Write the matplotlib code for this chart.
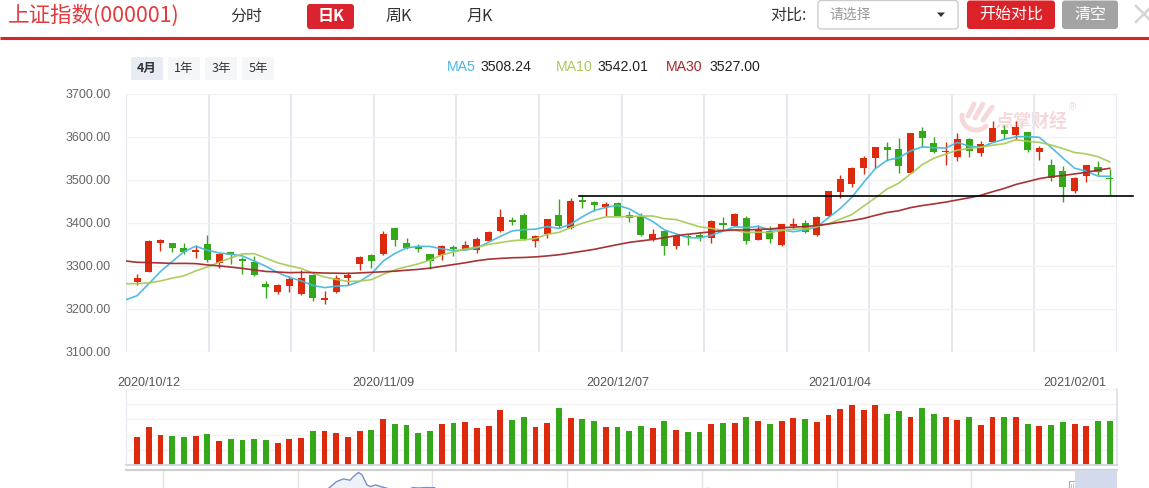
import matplotlib
matplotlib.use('Agg')
import matplotlib.pyplot as plt
import numpy as np
import pandas as pd
from matplotlib.patches import FancyBboxPatch, Rectangle, Polygon
from matplotlib.transforms import blended_transform_factory

# ---------------- data ----------------
# 29 closes before the first visible day + Sep 30 (for the moving averages)
prior_closes = [3363.90, 3380.68, 3385.64, 3373.58, 3329.74, 3350.44, 3403.81, 3395.68,
                3410.61, 3404.80, 3384.98, 3355.37, 3292.59, 3316.42, 3254.63, 3234.82,
                3260.35, 3278.81, 3295.68, 3283.92, 3270.44, 3338.09, 3316.94, 3274.30,
                3279.71, 3223.18, 3219.42, 3217.53, 3224.36, 3218.05]

opens = [3262.6, 3286.3, 3352.4, 3352.4, 3340.7, 3332.2, 3350.1, 3305.8, 3331.4, 3315.8,
         3308.1, 3256.9, 3239.7, 3253.7, 3233.6, 3278.6, 3220.5, 3238.3, 3272.3, 3303.5,
         3325.2, 3327.5, 3387.3, 3352.4, 3344.5, 3326.8, 3325.2, 3344.5, 3337.0, 3337.5,
         3358.4, 3381.7, 3406.6, 3418.3, 3358.4, 3373.3, 3418.3, 3387.3, 3453.2, 3449.2,
         3436.2, 3445.5, 3418.3, 3414.3, 3362.4, 3381.0, 3346.8, 3368.5, 3371.7, 3365.4,
         3400.4, 3393.4, 3412.0, 3360.8, 3381.0, 3348.4, 3393.4, 3399.6, 3371.7, 3416.7,
         3472.5, 3491.2, 3528.4, 3551.7, 3576.6, 3571.9, 3516.8, 3613.9, 3585.2, 3564.0,
         3554.0, 3595.2, 3563.3, 3588.9, 3616.2, 3604.5, 3610.8, 3565.7, 3534.7, 3520.7,
         3474.2, 3509.8, 3529.3, 3503.7]
closes = [3272.08, 3358.47, 3359.75, 3340.61, 3332.18, 3336.36, 3312.50, 3328.10, 3325.03, 3312.16,
          3278.00, 3251.12, 3254.32, 3269.24, 3272.74, 3224.53, 3225.12, 3271.07, 3277.44, 3320.13,
          3312.16, 3373.73, 3360.15, 3342.20, 3338.68, 3310.10, 3346.97, 3339.90, 3347.30, 3363.09,
          3377.73, 3414.49, 3402.82, 3362.33, 3369.73, 3408.31, 3391.76, 3451.94, 3449.38, 3442.14,
          3444.58, 3416.60, 3410.18, 3371.96, 3373.28, 3347.19, 3369.12, 3367.23, 3366.98, 3404.87,
          3394.90, 3420.57, 3356.78, 3382.32, 3363.11, 3396.56, 3397.29, 3379.04, 3414.45, 3473.07,
          3502.96, 3528.68, 3550.88, 3576.20, 3570.11, 3531.50, 3608.34, 3598.65, 3565.90, 3566.38,
          3596.22, 3566.26, 3583.09, 3621.26, 3606.75, 3624.24, 3569.43, 3573.34, 3505.18, 3483.07,
          3505.27, 3533.68, 3517.31, 3501.86]
highs = [3280.3, 3359.2, 3362.4, 3353.5, 3352.4, 3348.4, 3371.7, 3330.0, 3333.0, 3321.2,
         3323.5, 3264.6, 3256.9, 3277.0, 3290.2, 3280.2, 3241.3, 3278.6, 3284.9, 3322.0,
         3327.0, 3381.7, 3388.5, 3364.1, 3350.0, 3328.0, 3348.0, 3348.4, 3357.7, 3367.8,
         3380.0, 3432.3, 3414.3, 3423.6, 3371.7, 3410.0, 3455.5, 3457.2, 3464.8, 3450.9,
         3449.2, 3449.2, 3427.6, 3423.0, 3385.7, 3382.0, 3371.0, 3373.3, 3379.4, 3406.6,
         3414.3, 3423.6, 3415.2, 3395.0, 3392.7, 3398.0, 3412.0, 3406.6, 3415.0, 3474.0,
         3511.4, 3529.0, 3556.3, 3577.0, 3588.9, 3598.3, 3609.0, 3623.9, 3600.6, 3588.9,
         3609.9, 3597.0, 3590.6, 3637.1, 3627.8, 3637.1, 3612.0, 3578.9, 3548.7, 3532.4,
         3507.0, 3534.7, 3544.0, 3525.0]
lows = [3256.0, 3285.0, 3335.2, 3332.8, 3328.6, 3318.9, 3308.0, 3294.2, 3304.9, 3281.6,
        3276.0, 3225.7, 3235.0, 3239.7, 3232.0, 3218.7, 3210.4, 3236.0, 3255.3, 3290.2,
        3294.2, 3326.0, 3346.8, 3339.0, 3331.4, 3291.8, 3313.5, 3323.5, 3336.0, 3330.5,
        3357.0, 3379.4, 3395.0, 3360.0, 3344.5, 3365.4, 3388.0, 3386.0, 3435.3, 3428.3,
        3416.6, 3415.0, 3402.9, 3370.0, 3358.4, 3325.2, 3339.1, 3348.4, 3358.4, 3353.8,
        3383.3, 3392.0, 3350.0, 3359.0, 3353.8, 3347.0, 3385.7, 3376.0, 3370.0, 3415.0,
        3458.6, 3484.2, 3513.7, 3527.0, 3544.0, 3515.4, 3515.0, 3577.3, 3562.0, 3534.7,
        3544.0, 3554.0, 3555.6, 3588.0, 3595.2, 3592.9, 3565.7, 3546.3, 3498.1, 3447.8,
        3470.2, 3495.8, 3512.0, 3464.8]
volume = [1.84, 2.51, 1.97, 1.90, 1.84, 1.90, 2.04, 1.57, 1.70, 1.64,
          1.70, 1.64, 1.43, 1.70, 1.77, 2.24, 2.24, 2.11, 1.84, 2.24,
          2.31, 3.05, 2.71, 2.64, 2.11, 2.24, 2.71, 2.78, 2.85, 2.44,
          2.58, 3.65, 2.98, 3.18, 2.51, 2.78, 3.79, 3.12, 3.05, 2.91,
          2.51, 2.51, 2.24, 2.58, 2.44, 2.91, 2.31, 2.17, 2.17, 2.71,
          2.78, 2.78, 3.18, 2.91, 2.71, 2.91, 3.12, 3.05, 2.85, 3.32,
          3.72, 3.99, 3.65, 3.99, 3.38, 3.59, 3.18, 3.79, 3.38, 3.18,
          2.98, 3.18, 2.64, 3.18, 3.18, 3.18, 2.71, 2.58, 2.64, 2.85,
          2.71, 2.58, 2.91, 2.91]

date_labels = ['2020/10/12', '2020/11/09', '2020/12/07', '2021/01/04', '2021/02/01']
date_label_idx = [1, 21, 41, 60, 80]
price_ticks = [3100, 3200, 3300, 3400, 3500, 3600, 3700]
ma_periods = [5, 10, 30]
ma_names = ['MA5', 'MA10', 'MA30']
support_level = 3462.4
support_start = 37.7

overview_years = [2013.726, 2014.5, 2014.9, 2015.10, 2015.218, 2015.288, 2015.339, 2015.389, 2015.414,
                  2015.451, 2015.477, 2015.514, 2015.540, 2015.577, 2015.615, 2015.665, 2015.70,
                  2015.78, 2015.853, 2015.90, 2015.95, 2016.016, 2016.05, 2016.5, 2017.5, 2018.05,
                  2018.5, 2019.3, 2020.0, 2020.6, 2021.08]
overview_vals = [2200, 2050, 2900, 3300, 3431, 4249, 4522, 4390, 4764,
                 5178, 4936, 3915, 3744, 3915, 3744, 3572, 3300,
                 3150, 3640, 3600, 3645, 3630, 3100, 2950, 3150, 3550,
                 2900, 3200, 3050, 3400, 3530]
overview_window = (2020.77, 2021.08)

# ---------------- style ----------------
W, H = 1149, 488
plt.rcParams['font.family'] = ['Noto Sans CJK SC', 'DejaVu Sans']
LAT = ['Liberation Sans', 'DejaVu Sans']
RED = '#dd2a0c'
GREEN = '#35a81a'
MA_COLORS = ['#4ab8e0', '#a8cb58', '#a3282a']

fig = plt.figure(figsize=(W / 100, H / 100), dpi=100)
bg = fig.add_axes([0, 0, 1, 1])
bg.set_xlim(0, W)
bg.set_ylim(H, 0)
bg.axis('off')


def fa(l, t, r, b):
    return [l / W, 1 - b / H, (r - l) / W, (b - t) / H]


def rbox(x0, y0, x1, y1, fc, ec='none', r=3, lw=1):
    bg.add_patch(FancyBboxPatch((x0 + r, y0 + r), x1 - x0 - 2 * r, y1 - y0 - 2 * r,
                                boxstyle=f'round,pad={r}', fc=fc, ec=ec, lw=lw))


# ---------------- header ----------------
bg.text(8, 16, '上证指数(000001)', color='#e23a3d', fontsize=15.5, va='center', ha='left')
bg.text(246, 16, '分时', color='#333333', fontsize=11.5, va='center', ha='center')
rbox(307, 4, 354, 29, '#d9232e', r=3)
bg.text(330.5, 16, '日K', color='white', fontsize=11.5, va='center', ha='center', fontweight='bold')
bg.text(399, 16, '周K', color='#333333', fontsize=11.5, va='center', ha='center')
bg.text(480, 16, '月K', color='#333333', fontsize=11.5, va='center', ha='center')
bg.plot([0, W], [37.5, 37.5], color='#d9232e', lw=2.2, solid_capstyle='butt')

bg.text(807, 15, '对比:', color='#333333', fontsize=11.5, va='center', ha='right')
rbox(818, 0.5, 958, 29, 'white', ec='#cccccc', r=3)
bg.text(829, 14.5, '请选择', color='#9a9a9a', fontsize=10, va='center', ha='left')
bg.add_patch(Polygon([[937, 12.5], [945, 12.5], [941, 17]], closed=True, fc='#333333', ec='none'))
rbox(967, 0.5, 1055, 29, '#dc2229', r=3)
bg.text(1011, 14.5, '开始对比', color='white', fontsize=11.5, va='center', ha='center')
rbox(1062, 0.5, 1118, 29, '#a3a3a3', r=3)
bg.text(1090, 14.5, '清空', color='white', fontsize=11.5, va='center', ha='center')
bg.plot([1136, 1152], [6, 22], color='#d4d4d4', lw=1.8)
bg.plot([1136, 1152], [22, 6], color='#d4d4d4', lw=1.8)

# period buttons
for (x0, x1, lab, fc, fw) in [(131, 163, '4月', '#e6ebf4', 'bold'), (168, 200, '1年', '#f5f6f8', 'normal'),
                               (205, 237, '3年', '#f5f6f8', 'normal'), (242, 274, '5年', '#f5f6f8', 'normal')]:
    rbox(x0, 57, x1, 80, fc, r=2)
    bg.text((x0 + x1) / 2, 68.5, lab, color='#333333', fontsize=9, va='center', ha='center', fontweight=fw)

# ---------------- moving averages ----------------
all_closes = pd.Series(prior_closes + closes)
n_prior = len(prior_closes)
ma_x = np.arange(-1, len(closes))
ma_vals = [all_closes.rolling(p).mean().values[n_prior - 1:] for p in ma_periods]

legend_x = [(447, 481), (556, 598), (666, 710)]
for (nx, vx), name, col, vals in zip(legend_x, ma_names, MA_COLORS, ma_vals):
    bg.text(nx, 67, name, color=col, fontsize=10.2, va='center', ha='left', family=LAT)
    bg.text(vx, 67, f'{vals[-1]:.2f}', color='#222222', fontsize=10.2, va='center', ha='left', family=LAT)

# ---------------- watermark ----------------
wm = '#f5d9da'
bg.text(995, 122, '点掌财经', color=wm, fontsize=13, va='center', ha='left', fontweight='bold')
bg.text(1069, 107, '®', color=wm, fontsize=7, va='center', ha='left', family=LAT)
th = np.linspace(np.pi * 0.95, np.pi * 1.75, 30)
bg.plot(976 + 14 * np.cos(th), 117 - 13 * np.sin(th), color=wm, lw=3.5, solid_capstyle='round')
for (a, b, c, d) in [(968, 116, 974, 104), (975, 118, 983, 104), (983, 120, 992, 107)]:
    bg.plot([a, c], [b, d], color=wm, lw=3.5, solid_capstyle='round')

# ---------------- price axes ----------------
ax = fig.add_axes(fa(126, 94, 1117, 351.7))
ax.set_facecolor('none')
n = len(closes)
idx = np.arange(n)
o = np.array(opens); c = np.array(closes); hi = np.array(highs); lo = np.array(lows)
up = c >= o
cols = np.where(up, RED, GREEN)
ax.vlines(idx, lo, hi, colors=cols, lw=1.0, zorder=2)
body_h = np.maximum(np.abs(c - o), 1.2)
ax.bar(idx, body_h, bottom=np.minimum(o, c), width=0.6, color=cols, lw=0, zorder=2)
for vals, col in zip(ma_vals, MA_COLORS):
    ax.plot(ma_x, vals, color=col, lw=1.2, zorder=3, alpha=0.95)
ax.plot([support_start, 85.0], [support_level, support_level], color='black', lw=1.2, zorder=4, clip_on=False)

XLIM = (-0.94, 83.62)
ax.set_xlim(*XLIM)
ax.set_ylim(3100, 3700)
ax.set_yticks(price_ticks)
ax.set_yticklabels([f'{v:.2f}' for v in price_ticks], family=LAT, fontsize=9, color='#666666')
ax.tick_params(axis='y', length=0, pad=11)
ax.set_xticks([])
ax.yaxis.grid(True, color='#f1f1f1', lw=1)
ax.set_axisbelow(True)
for s in ax.spines.values():
    s.set_visible(False)
for k in range(13):
    ax.plot([k / 12, k / 12], [0, 1], transform=ax.transAxes, color='#e4e9f0', lw=1.4, zorder=0)

# ---------------- volume axes ----------------
vax = fig.add_axes(fa(126, 389.3, 1117, 464.7))
vax.set_facecolor('none')
vax.bar(idx, volume, width=0.5, color=cols, lw=0, zorder=2)
vax.set_xlim(*XLIM)
vax.set_ylim(0, 5)
vax.set_yticks([1, 2, 3, 4, 5])
vax.set_yticklabels([])
vax.set_xticks([])
vax.tick_params(length=0)
vax.yaxis.grid(True, color='#f1f1f1', lw=1)
vax.set_axisbelow(True)
for k, s in vax.spines.items():
    s.set_visible(False)
vax.spines['bottom'].set_visible(True)
vax.spines['bottom'].set_color('#cdd6e2')
vax.spines['bottom'].set_linewidth(1.3)
vax.spines['left'].set_visible(True)
vax.spines['left'].set_color('#e6ebf1')
vax.spines['right'].set_visible(True)
vax.spines['right'].set_color('#dde3ec')
vax.spines['right'].set_linewidth(1.3)

tr = blended_transform_factory(vax.transData, bg.transData)
for lab, i in zip(date_labels, date_label_idx):
    bg.text(i, 383, lab, transform=tr, color='#555555', fontsize=9, va='center', ha='center', family=LAT)

# ---------------- slider ----------------
sax = fig.add_axes(fa(126, 470.4, 1117, 508))
sax.set_facecolor('none')
sax.set_xlim(2013.726, 2021.08)
sax.set_ylim(1582, 5380)
for yr in range(2014, 2021):
    sax.axvline(yr, color='#e2e2e2', lw=1, zorder=0)
sax.fill_between(overview_years, overview_vals, 1582, color='#edf1f8', lw=0, zorder=1)
sax.plot(overview_years, overview_vals, color='#7790c6', lw=1.0, zorder=2)
sax.axvspan(overview_window[0], overview_window[1], color='#d2daec', lw=0, zorder=3)
sax.set_xticks([]); sax.set_yticks([])
for k, s in sax.spines.items():
    s.set_visible(False)
sax.spines['top'].set_visible(True)
sax.spines['top'].set_color('#d0d0d0')
sax.spines['top'].set_linewidth(1.6)
# window handles
for hx in (1068.5, 1106.0):
    bg.add_patch(Rectangle((hx, 481), 6.5, 10, fc='white', ec='#a9a9a9', lw=0.8, zorder=5))
    bg.plot([hx + 2.5, hx + 2.5], [483.5, 491], color='#a9a9a9', lw=0.5, zorder=6)
    bg.plot([hx + 4.0, hx + 4.0], [483.5, 491], color='#a9a9a9', lw=0.5, zorder=6)

fig.savefig('out.png', dpi=100)
